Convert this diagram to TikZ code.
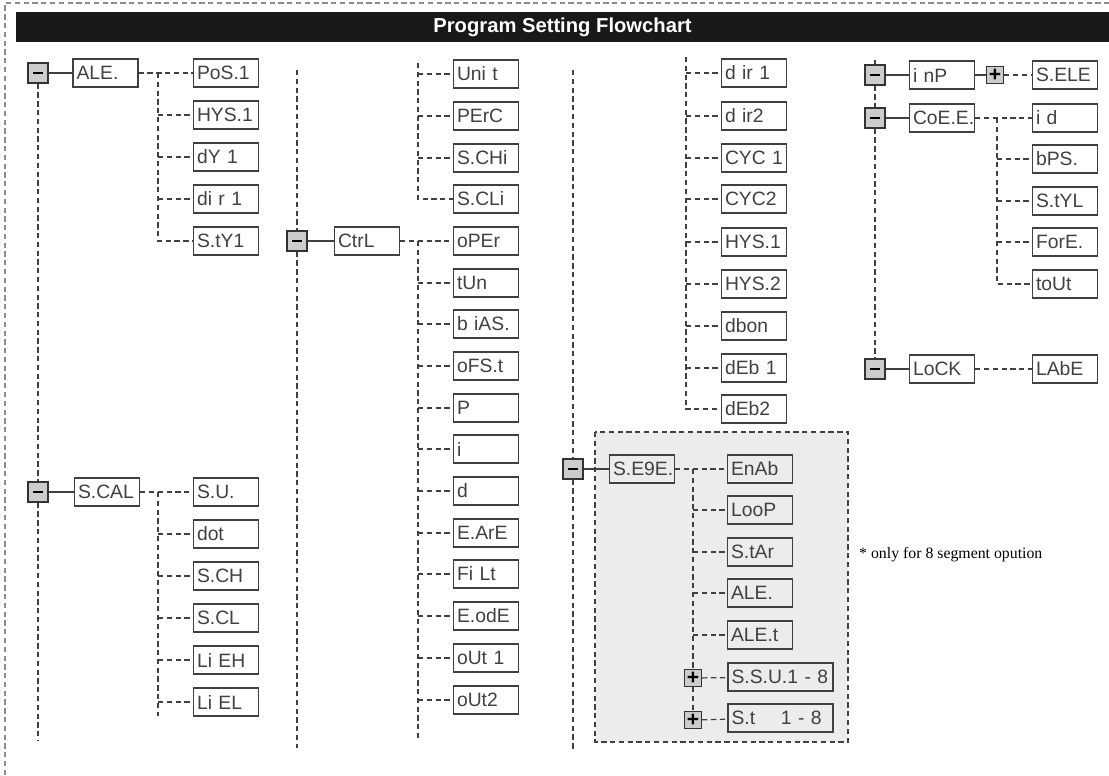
\documentclass[tikz,border=0pt]{standalone}
\usepackage{fontspec}
\setmainfont{Liberation Sans}
\newfontfamily\serifnote{Liberation Serif}
\usetikzlibrary{positioning}

\begin{document}
\begin{tikzpicture}[x=0.02cm, y=-0.02cm,
        lcd/.style={draw=black!75, line width=0.8pt, minimum height=0.56cm, text width=1.16cm, inner xsep=0.07cm, inner ysep=0pt, align=left, text=black!75, font=\fontsize{11}{12}\selectfont},
        lcdwide/.style={lcd, text width=1.96cm},
        minus/.style={draw=black!80, fill=gray!40, line width=0.8pt, minimum size=0.4cm, inner sep=0pt, font=\bfseries},
        plus/.style={minus, minimum size=0.34cm, font=\bfseries\fontsize{12}{12}\selectfont},
        dline/.style={dashed, dash pattern=on 3pt off 2pt, line width=0.7pt, draw=black!75},
        sline/.style={line width=0.8pt, draw=black!75}
    ]
    \useasboundingbox (0,0) rectangle (1109,775);

    % Frame and title
    \draw[dline, draw=black!45] (5,775) -- (5,3) -- (1109,3);
    \node[fill=black!90, minimum width=21.86cm, minimum height=0.56cm, text=white, font=\bfseries\fontsize{11.5}{13}\selectfont] (title) at (562.5,27) {Program Setting Flowchart};

    % Column 1 - ALE.
    \node[minus] (mA) at (38,73) {\rule{0.2cm}{1.6pt}};
    \node[lcd] (ale) at (105.5,73) {ALE.};
    \node[lcd] (pos1) at (226,73) {PoS.1};
    \node[lcd] (hys1) at (226,115) {HYS.1};
    \node[lcd] (dy1) at (226,157) {dY~1};
    \node[lcd] (dir1) at (226,199) {di~r~1};
    \node[lcd] (sty1) at (226,241) {S.tY1};
    \coordinate (ja) at (158,73);
    \draw[sline] (mA) -- (ale);
    \draw[dline] (ale) -- (pos1);
    \draw[dline] (ja) |- (sty1);
    \draw[dline] (ja |- hys1) -- (hys1);
    \draw[dline] (ja |- dy1) -- (dy1);
    \draw[dline] (ja |- dir1) -- (dir1);

    % Column 1 - S.CAL
    \node[minus] (mS) at (38,492) {\rule{0.2cm}{1.6pt}};
    \node[lcd] (scal) at (107,492) {S.CAL};
    \node[lcd] (su) at (226,492) {S.U.};
    \node[lcd] (dotp) at (226,534) {dot};
    \node[lcd] (sch) at (226,576) {S.CH};
    \node[lcd] (scl) at (226,618) {S.CL};
    \node[lcd] (lieh) at (226,660) {Li~EH};
    \node[lcd] (liel) at (226,702) {Li~EL};
    \coordinate (js) at (158,492);
    \coordinate (es) at (158,716);
    \coordinate (endA) at (38,740);
    \draw[sline] (mS) -- (scal);
    \draw[dline] (scal) -- (su);
    \draw[dline] (js) -- (es);
    \draw[dline] (js |- dotp) -- (dotp);
    \draw[dline] (js |- sch) -- (sch);
    \draw[dline] (js |- scl) -- (scl);
    \draw[dline] (js |- lieh) -- (lieh);
    \draw[dline] (js |- liel) -- (liel);
    \draw[dline] (mA) -- (mS) -- (endA);

    % Column 2 - CtrL
    \node[minus] (mC) at (297,241) {\rule{0.2cm}{1.6pt}};
    \node[lcd] (ctrl) at (367,241) {CtrL};
    \node[lcd] (unit) at (486,74) {Uni~t};
    \node[lcd] (perc) at (486,116) {PErC};
    \node[lcd] (schi) at (486,158) {S.CHi};
    \node[lcd] (scli) at (486,199) {S.CLi};
    \node[lcd] (oper) at (486,241) {oPEr};
    \node[lcd] (tun) at (486,283) {tUn};
    \node[lcd] (bias) at (486,324) {b~iAS.};
    \node[lcd] (ofst) at (486,366) {oFS.t};
    \node[lcd] (pp) at (486,408) {P};
    \node[lcd] (ii) at (486,449) {i};
    \node[lcd] (dd) at (486,491) {d};
    \node[lcd] (rate) at (486,533) {E.ArE};
    \node[lcd] (filt) at (486,574) {Fi~Lt};
    \node[lcd] (eode) at (486,616) {E.odE};
    \node[lcd] (out1) at (486,658) {oUt~1};
    \node[lcd] (out2) at (486,700) {oUt2};
    \coordinate (topC) at (297,70);
    \coordinate (endC) at (297,748);
    \coordinate (tc) at (418,63);
    \coordinate (jc) at (418,241);
    \coordinate (ec) at (418,740);
    \draw[dline] (topC) -- (mC) -- (endC);
    \draw[sline] (mC) -- (ctrl);
    \draw[dline] (tc) |- (scli);
    \draw[dline] (tc |- unit) -- (unit);
    \draw[dline] (tc |- perc) -- (perc);
    \draw[dline] (tc |- schi) -- (schi);
    \draw[dline] (ctrl) -- (oper);
    \draw[dline] (jc) -- (ec);
    \draw[dline] (jc |- tun) -- (tun);
    \draw[dline] (jc |- bias) -- (bias);
    \draw[dline] (jc |- ofst) -- (ofst);
    \draw[dline] (jc |- pp) -- (pp);
    \draw[dline] (jc |- ii) -- (ii);
    \draw[dline] (jc |- dd) -- (dd);
    \draw[dline] (jc |- rate) -- (rate);
    \draw[dline] (jc |- filt) -- (filt);
    \draw[dline] (jc |- eode) -- (eode);
    \draw[dline] (jc |- out1) -- (out1);
    \draw[dline] (jc |- out2) -- (out2);

    % Column 3 - upper list
    \node[lcd] (gdir1) at (754,73) {d~ir~1};
    \node[lcd] (gdir2) at (754,116) {d~ir2};
    \node[lcd] (cyc1) at (754,158) {CYC~1};
    \node[lcd] (cyc2) at (754,199) {CYC2};
    \node[lcd] (ghys1) at (754,242) {HYS.1};
    \node[lcd] (ghys2) at (754,284) {HYS.2};
    \node[lcd] (dbon) at (754,326) {dbon};
    \node[lcd] (deb1) at (754,368) {dEb~1};
    \node[lcd] (deb2) at (754,409) {dEb2};
    \coordinate (tg) at (686,57);
    \draw[dline] (tg) |- (deb2);
    \draw[dline] (tg |- gdir1) -- (gdir1);
    \draw[dline] (tg |- gdir2) -- (gdir2);
    \draw[dline] (tg |- cyc1) -- (cyc1);
    \draw[dline] (tg |- cyc2) -- (cyc2);
    \draw[dline] (tg |- ghys1) -- (ghys1);
    \draw[dline] (tg |- ghys2) -- (ghys2);
    \draw[dline] (tg |- dbon) -- (dbon);
    \draw[dline] (tg |- deb1) -- (deb1);

    % Column 3 - S.EGE. (8 segment only)
    \draw[dline, fill=gray!15] (595,432) rectangle (848,742);
    \node[minus] (mG) at (573,469) {\rule{0.2cm}{1.6pt}};
    \node[lcd] (sege) at (642,469) {S.E9E.};
    \node[lcd] (enab) at (760,469) {EnAb};
    \node[lcd] (loop) at (760,510) {LooP};
    \node[lcd] (star) at (760,552) {S.tAr};
    \node[lcd] (gale) at (760,593) {ALE.};
    \node[lcd] (galet) at (760,635) {ALE.t};
    \node[lcdwide] (ssu) at (780.5,677) {S.S.U.1~-~8};
    \node[lcdwide] (st18) at (780.5,718) {S.t~~~~1~-~8};
    \node[plus] (pU) at (693,678) {+};
    \node[plus] (pT) at (693,720) {+};
    \coordinate (topG) at (573,70);
    \coordinate (endG) at (573,752);
    \coordinate (jg) at (693,469);
    \draw[dline] (topG) -- (mG) -- (endG);
    \draw[sline] (mG) -- (sege);
    \draw[dline] (sege) -- (enab);
    \draw[dline] (jg) -- (pU) -- (pT);
    \draw[dline] (jg |- loop) -- (loop);
    \draw[dline] (jg |- star) -- (star);
    \draw[dline] (jg |- gale) -- (gale);
    \draw[dline] (jg |- galet) -- (galet);
    \draw[dline] (pU) -- (ssu);
    \draw[dline] (pT) -- (st18);
    \node[anchor=west, font=\serifnote\fontsize{9}{10}\selectfont] (note) at (853,555) {* only for 8 segment opution};

    % Column 4 - inP, CoE.E., LoCK
    \node[minus] (mI) at (875,75) {\rule{0.2cm}{1.6pt}};
    \node[lcd] (inp) at (942,75) {i~nP};
    \node[plus] (pI) at (995,75) {+};
    \node[lcd] (sele) at (1065,75) {S.ELE};
    \node[minus] (mK) at (875,118) {\rule{0.2cm}{1.6pt}};
    \node[lcd] (coee) at (942,118) {CoE.E.};
    \node[lcd] (id) at (1065,118) {i~d};
    \node[lcd] (bps) at (1065,159) {bPS.};
    \node[lcd] (styl) at (1065,201) {S.tYL};
    \node[lcd] (fore) at (1065,242) {ForE.};
    \node[lcd] (tout) at (1065,284) {toUt};
    \node[minus] (mL) at (875,369) {\rule{0.2cm}{1.6pt}};
    \node[lcd] (lock) at (942,369) {LoCK};
    \node[lcd] (labe) at (1065,369) {LAbE};
    \coordinate (topK) at (875,60);
    \coordinate (jk) at (997,118);
    \draw[dline] (topK) -- (mI) -- (mK) -- (mL);
    \draw[sline] (mI) -- (inp);
    \draw[sline] (inp) -- (pI);
    \draw[dline] (pI) -- (sele);
    \draw[sline] (mK) -- (coee);
    \draw[dline] (coee) -- (id);
    \draw[dline] (jk) |- (tout);
    \draw[dline] (jk |- bps) -- (bps);
    \draw[dline] (jk |- styl) -- (styl);
    \draw[dline] (jk |- fore) -- (fore);
    \draw[sline] (mL) -- (lock);
    \draw[dline] (lock) -- (labe);
\end{tikzpicture}
\end{document}
